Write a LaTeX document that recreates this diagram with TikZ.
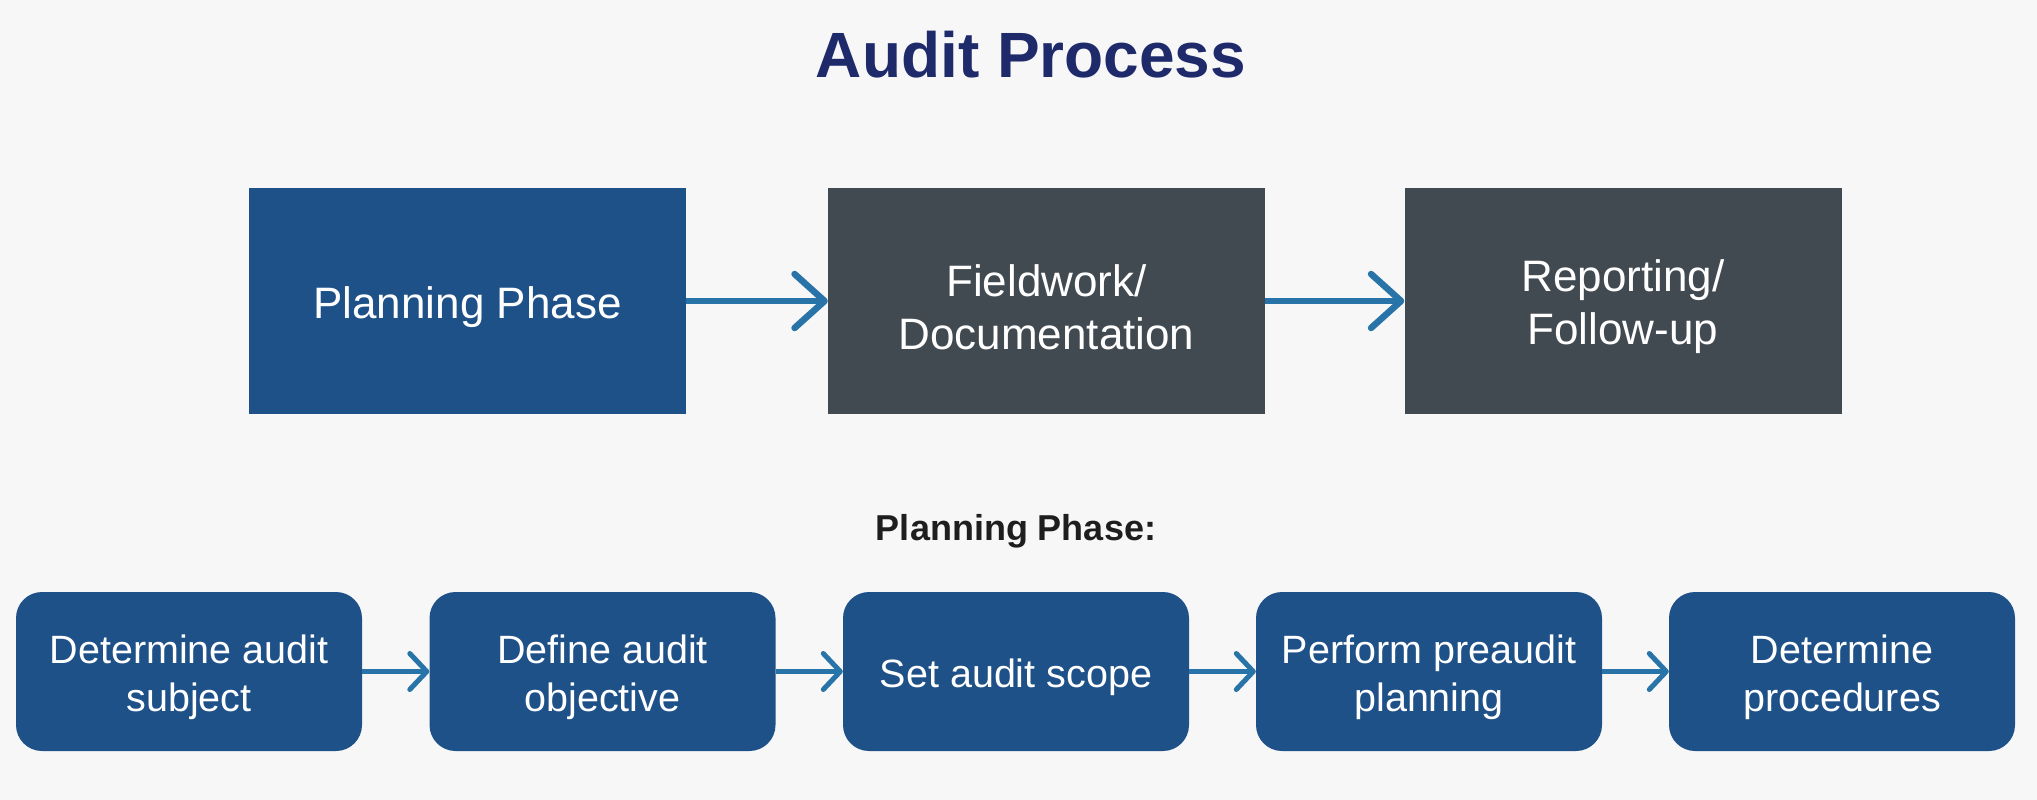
\documentclass[tikz,border=0pt]{standalone}
\usepackage{fontspec}
\setmainfont{Liberation Sans}
\usetikzlibrary{arrows.meta}
\definecolor{bgc}{HTML}{F7F7F7}
\definecolor{boxblue}{HTML}{1F5189}
\definecolor{boxgray}{HTML}{424A51}
\definecolor{titlec}{HTML}{1F2A6B}
\definecolor{arrowc}{HTML}{2873A8}
\definecolor{labelc}{HTML}{1E1E1E}
\tikzset{
  phasebox/.style={rectangle, minimum width=437pt, minimum height=226pt, inner sep=0pt},
  phasetext/.style={text=white, align=center, font=\fontsize{44}{53}\selectfont, yshift=-6pt},
  stepbox/.style={rectangle, rounded corners=26pt, fill=boxblue, minimum width=346pt, minimum height=159pt, inner sep=0pt},
  steptext/.style={text=white, align=center, font=\fontsize{39.5}{48}\selectfont, yshift=-6pt},
  bigarrow/.style={draw=arrowc, line width=6.5pt, -{Straight Barb[length=30pt,width=54pt,line cap=round,round]}},
  smallarrow/.style={draw=arrowc, line width=5pt, -{Straight Barb[length=17pt,width=36pt,line cap=round,round]}}
}
\begin{document}
\begin{tikzpicture}[x=1pt,y=-1pt]
\fill[bgc] (0,0) rectangle (2037,800);
\useasboundingbox (0,0) rectangle (2037,800);
\node[font=\fontsize{64}{70}\selectfont\bfseries, text=titlec] (title) at (1031,55) {Audit Process};
\node[phasebox, fill=boxblue, label={[phasetext]center:Planning Phase}] (p1) at (467.5,301) {};
\node[phasebox, fill=boxgray, label={[phasetext]center:Fieldwork/\\Documentation}] (p2) at (1046.5,301) {};
\node[phasebox, fill=boxgray, label={[phasetext]center:Reporting/\\Follow-up}] (p3) at (1623,301) {};
\draw[bigarrow] (p1.east) -- (p2.west);
\draw[bigarrow] (p2.east) -- (p3.west);
\node[font=\fontsize{36}{40}\selectfont\bfseries, text=labelc] (lab) at (1016,531) {Planning Phase:};
\node[stepbox, label={[steptext]center:Determine audit\\subject}] (s1) at (189,671.5) {};
\node[stepbox, label={[steptext]center:Define audit\\objective}] (s2) at (602.5,671.5) {};
\node[stepbox, label={[steptext]center:Set audit scope}] (s3) at (1016,671.5) {};
\node[stepbox, label={[steptext]center:Perform preaudit\\planning}] (s4) at (1429,671.5) {};
\node[stepbox, label={[steptext]center:Determine\\procedures}] (s5) at (1842,671.5) {};
\draw[smallarrow] (s1.east) -- (s2.west);
\draw[smallarrow] (s2.east) -- (s3.west);
\draw[smallarrow] (s3.east) -- (s4.west);
\draw[smallarrow] (s4.east) -- (s5.west);
\end{tikzpicture}
\end{document}
